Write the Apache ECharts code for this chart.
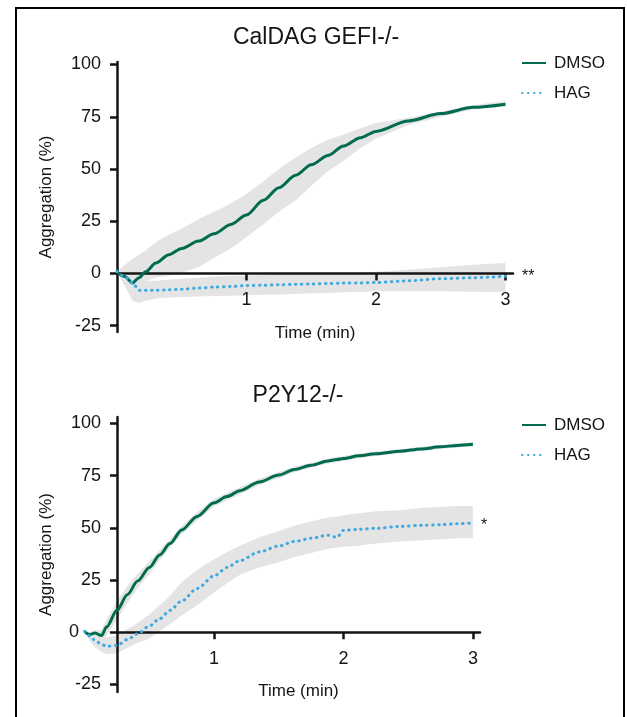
<!DOCTYPE html>
<html>
<head>
<meta charset="utf-8">
<title>Aggregation</title>
<script src="https://cdn.jsdelivr.net/npm/echarts@6/dist/echarts.min.js"></script>
<style>
html, body { margin: 0; padding: 0; background: #fff; }
#chart { width: 627px; height: 717px; }
</style>
</head>
<body>
<div id="chart"></div>
<script>
// tick labels
var yTicks = [-25, 0, 25, 50, 75, 100]
var xTicks = [1, 2, 3]
var legendNames = ['DMSO', 'HAG']

// CalDAG GEFI-/- (time in min, aggregation in %)
var topTime = [0, 0.06, 0.12, 0.17, 0.22, 0.3, 0.4, 0.5, 0.63, 0.75, 0.88, 1, 1.13, 1.25, 1.38, 1.5, 1.63, 1.75, 1.88, 2, 2.25, 2.5, 2.75, 3]
var topDmso = [0.8, -1.5, -4.5, -2, 0.8, 5, 9, 12, 15.5, 19, 23.5, 28, 35, 41, 47, 52, 56.5, 61, 65, 68, 73, 76.5, 79.5, 81]
var topDmsoHigh = [0.8, 4, 7, 9, 11, 15, 18.5, 21.5, 26, 29.5, 33.5, 38, 44, 50, 55.5, 60, 64, 66.5, 69.5, 72, 74.5, 77.5, 80.5, 82.5]
var topDmsoLow = [0.8, -4, -7, -5, -3.5, -2, -1, 0.5, 3, 7.5, 12, 17.5, 23.5, 29.5, 35, 42, 49, 54, 60, 64.5, 71, 75, 78.5, 80]
var topHag = [1, -1.5, -4.5, -8, -8, -8, -7.8, -7.5, -7, -6.5, -6.2, -5.8, -5.6, -5.4, -5.2, -5, -4.8, -4.6, -4.5, -4.3, -3.5, -2.5, -2, -1.3]
var topHagHigh = [1, 0, -2, -3, -3.5, -3.5, -3, -2.5, -2, -1.5, -1.2, -1, -0.7, -0.5, -0.2, 0, 0.2, 0.4, 0.6, 0.8, 1.8, 3, 4.2, 5]
var topHagLow = [1, -6, -13, -14, -13, -12, -11.5, -11.2, -11, -10.8, -10.6, -10.4, -10.2, -10, -9.8, -9.5, -9.3, -9, -8.8, -8.5, -8.5, -8.5, -8.7, -8.8]

// P2Y12-/-
var botTime = [0, 0.04, 0.08, 0.13, 0.17, 0.25, 0.33, 0.41, 0.5, 0.58, 0.66, 0.75, 0.87, 1, 1.1, 1.2, 1.35, 1.5, 1.62, 1.75, 1.88, 1.95, 2, 2.12, 2.25, 2.44, 2.6, 2.75, 2.88, 3]
var botDmso = [0.3, -1.1, -0.3, -1.6, 2.5, 10.5, 18, 24.5, 31, 37, 42.5, 49, 55.5, 62, 65, 67.8, 72, 75.3, 78, 80, 82, 82.7, 83.2, 84.5, 85.5, 86.7, 87.8, 88.8, 89.5, 90]
var botDmsoHigh = [0.3, 0, 1, 1, 6, 15, 22, 28, 34, 39.5, 44.5, 51, 57.5, 63.8, 66.8, 69.5, 73.5, 76.8, 79.3, 81.2, 83.2, 83.9, 84.4, 85.6, 86.6, 87.7, 88.8, 89.8, 90.5, 91]
var botDmsoLow = [0.3, -2.2, -2, -4, -1.5, 6, 14, 21, 28, 34.5, 40.5, 47, 53.5, 60.2, 63.2, 66, 70.5, 73.8, 76.7, 78.8, 80.8, 81.5, 82, 83.4, 84.4, 85.7, 86.8, 87.8, 88.5, 89]
var botHag = [0.5, -1.8, -3.8, -5.8, -6.7, -6.3, -3.5, -0.7, 3, 6.5, 10.5, 15, 21, 27, 31, 34.3, 38.5, 41.3, 43.5, 45, 46.5, 45.5, 48.8, 49.3, 49.8, 50.7, 51.2, 51.5, 52, 52.3]
var botHagHigh = [0.5, 0, -1, -2, -2.5, -1.5, 1.5, 4.5, 8.5, 13, 17.5, 24, 30, 35, 38.5, 41.5, 45.5, 48.5, 51, 53, 55, 55.5, 56, 57, 58, 58.5, 59.5, 60, 60.5, 60.5]
var botHagLow = [0.5, -4, -7, -9.5, -10.5, -10, -7.5, -5, -3, 0.5, 4, 8, 13, 19, 23.5, 27.5, 31, 33.5, 36, 38, 40, 40.5, 41, 41.5, 42.5, 43.5, 44, 44.5, 45, 45]

var SANS = '"Liberation Sans", Arial, sans-serif'
var INK = '#141414'
var GREEN = '#006b4f'
var BLUE = '#3ea9e0'
var BAND = '#e4e4e4'

// layout of the two panels
var TOP = { left: 117, right: 513, top: 62, bottom: 332, xMin: 0, xMax: 3.058, yMin: -28, yMax: 101.2 }
var BOT = { left: 84.6, right: 480, top: 417, bottom: 692, xMin: 0, xMax: 3.055, yMin: -28.6, yMax: 103.1 }
var BOT_YAXIS_AT = 0.25 // the bottom panel's y axis crosses the time axis here

function pts (time, vals) {
  return time.map(function (t, i) { return [t, vals[i]] })
}

// grey SEM band drawn as one polygon through the axis scale
function band (time, low, high, idx) {
  return {
    type: 'custom',
    xAxisIndex: idx,
    yAxisIndex: idx,
    silent: true,
    z: 1,
    data: time.map(function (t, i) { return [t, low[i], high[i]] }),
    encode: { x: 0, y: [1, 2] },
    renderItem: function (params, api) {
      if (params.dataIndex !== 0) return null
      var up = time.map(function (t, i) { return api.coord([t, high[i]]) })
      var dn = time.map(function (t, i) { return api.coord([t, low[i]]) }).reverse()
      return {
        type: 'polygon',
        shape: { points: up.concat(dn) },
        style: { fill: BAND }
      }
    }
  }
}

function line (name, time, vals, idx) {
  var dotted = name === 'HAG'
  return {
    name: name,
    type: 'line',
    xAxisIndex: idx,
    yAxisIndex: idx,
    symbol: 'none',
    smooth: 0.3,
    smoothMonotone: 'x',
    z: 3,
    color: dotted ? BLUE : GREEN,
    lineStyle: dotted
      ? { color: BLUE, width: 3, type: [0.5, 5.5], cap: 'round' }
      : { color: GREEN, width: 3 },
    data: pts(time, vals)
  }
}

// distance (px) from the grid bottom up to y = 0
function zeroLift (p) {
  return (p.bottom - p.top) * (0 - p.yMin) / (p.yMax - p.yMin)
}

function xAxisCfg (idx, min, max, lift) {
  return {
    gridIndex: idx,
    type: 'value',
    min: min,
    max: max,
    offset: -lift,
    z: 2,
    name: 'Time (min)',
    nameLocation: 'middle',
    nameGap: 51,
    nameTextStyle: { fontFamily: SANS, fontSize: 17, color: INK },
    axisLine: { onZero: false, lineStyle: { color: INK, width: 2.5 } },
    axisTick: { customValues: xTicks, length: 7, lineStyle: { color: INK, width: 2.5 } },
    axisLabel: { customValues: xTicks, margin: 18, fontSize: 18, fontFamily: SANS, color: INK },
    splitLine: { show: false }
  }
}

function yAxisCfg (idx, min, max, shiftZero) {
  return {
    gridIndex: idx,
    type: 'value',
    min: min,
    max: max,
    z: 2,
    name: 'Aggregation (%)',
    nameLocation: 'middle',
    nameGap: 62,
    nameTextStyle: { fontFamily: SANS, fontSize: 17, color: INK },
    axisLine: { onZero: false, lineStyle: { color: INK, width: 2.5 } },
    axisTick: { customValues: yTicks, length: 7, lineStyle: { color: INK, width: 2.5 } },
    axisLabel: {
      customValues: yTicks,
      margin: 16,
      fontSize: 18,
      fontFamily: SANS,
      color: INK,
      formatter: function (v) {
        return shiftZero && v === 0 ? '{z|0}' : String(v)
      },
      rich: { z: { fontSize: 18, fontFamily: SANS, color: INK, padding: [0, 22, 0, 0] } }
    },
    splitLine: { show: false }
  }
}

function hiddenAxis (idx, min, max) {
  return { gridIndex: idx, type: 'value', min: min, max: max, show: false }
}

function legendCfg (top) {
  return {
    orient: 'vertical',
    left: 521,
    top: top,
    padding: 0,
    itemWidth: 24,
    itemHeight: 14,
    itemGap: 10,
    selectedMode: false,
    itemStyle: { opacity: 0 },
    data: legendNames,
    textStyle: { fontSize: 17, lineHeight: 20, fontFamily: SANS, color: INK, padding: [0, 0, 0, 3] }
  }
}

var pxPerMin = (BOT.right - BOT.left) / (BOT.xMax - BOT.xMin)
var botAxisLeft = BOT.left + (BOT_YAXIS_AT - BOT.xMin) * pxPerMin

var chart = echarts.init(document.getElementById('chart'))

var option = {
  animation: false,
  backgroundColor: '#fff',
  title: [
    { text: 'CalDAG GEFI-/-', left: 316, top: 25, padding: 0, textAlign: 'center',
      textStyle: { fontSize: 23, fontWeight: 'normal', fontFamily: SANS, color: INK, lineHeight: 26 } },
    { text: 'P2Y12-/-', left: 298, top: 383, padding: 0, textAlign: 'center',
      textStyle: { fontSize: 23, fontWeight: 'normal', fontFamily: SANS, color: INK, lineHeight: 26 } }
  ],
  legend: [legendCfg(53), legendCfg(415)],
  grid: [
    // top panel
    { left: TOP.left, top: TOP.top, width: TOP.right - TOP.left, height: TOP.bottom - TOP.top },
    // bottom panel: data area (starts at t = 0)
    { left: BOT.left, top: BOT.top, width: BOT.right - BOT.left, height: BOT.bottom - BOT.top },
    // bottom panel: visible axes (start where the y axis crosses)
    { left: botAxisLeft, top: BOT.top, width: BOT.right - botAxisLeft, height: BOT.bottom - BOT.top }
  ],
  xAxis: [
    xAxisCfg(0, TOP.xMin, TOP.xMax, zeroLift(TOP)),
    hiddenAxis(1, BOT.xMin, BOT.xMax),
    xAxisCfg(2, BOT_YAXIS_AT, BOT.xMax, zeroLift(BOT))
  ],
  yAxis: [
    yAxisCfg(0, TOP.yMin, TOP.yMax, false),
    hiddenAxis(1, BOT.yMin, BOT.yMax),
    yAxisCfg(2, BOT.yMin, BOT.yMax, true)
  ],
  graphic: [
    { type: 'rect', silent: true, z: -10,
      shape: { x: 16, y: 8, width: 608, height: 730 },
      style: { fill: 'none', stroke: '#000', lineWidth: 2 } },
    { type: 'text', left: 522, top: 269, style: { text: '**', fontSize: 16, fontFamily: SANS, fill: INK } },
    { type: 'text', left: 481, top: 518, style: { text: '*', fontSize: 16, fontFamily: SANS, fill: INK } }
  ],
  series: [
    band(topTime, topDmsoLow, topDmsoHigh, 0),
    band(topTime, topHagLow, topHagHigh, 0),
    band(botTime, botDmsoLow, botDmsoHigh, 1),
    band(botTime, botHagLow, botHagHigh, 1),
    line('DMSO', topTime, topDmso, 0),
    line('HAG', topTime, topHag, 0),
    line('DMSO', botTime, botDmso, 1),
    line('HAG', botTime, botHag, 1)
  ]
}

chart.setOption(option)
</script>
</body>
</html>
